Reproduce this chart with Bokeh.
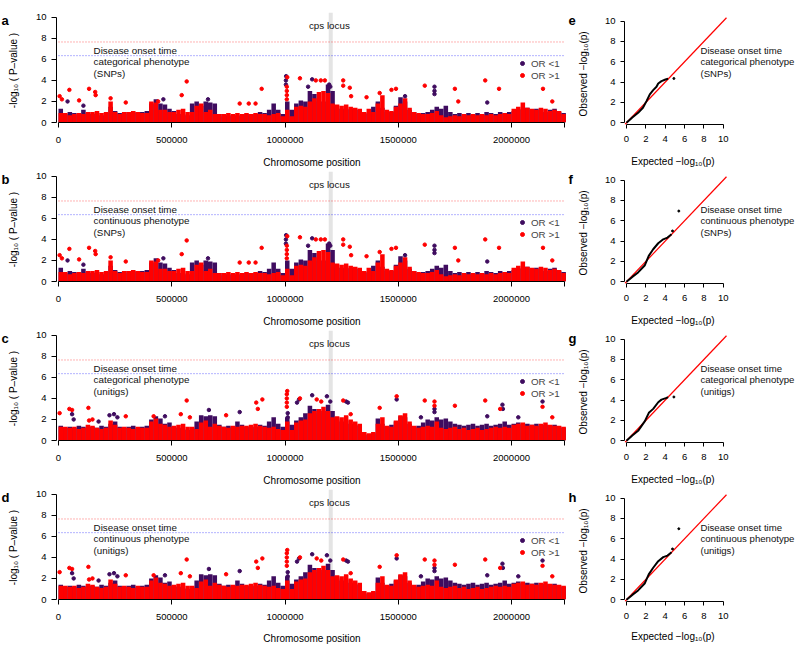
import math
from bokeh.plotting import figure
from bokeh.models import (Range1d, FixedTicker, NumeralTickFormatter, Span,
                          Legend, LegendItem)
from bokeh.layouts import column, row
from bokeh.embed import file_html
from bokeh.resources import INLINE
from bokeh.core.properties import value

# ---------------- data ----------------
bin_start_kb = list(range(0, 2240, 20))          # 20 kb bins along the chromosome
chrom_len_bp = 2233000
cps_locus_bp = 1202000
threshold_red = 7.65
threshold_blue = 6.35

# upper envelope of the dense point cloud per bin (SNP and unitig analyses)
snp_purple_env = [1.3,0.8,1.0,0.9,0.7,1.2,0.9,0.8,0.9,0.7, 0.9,1.5,1.1,0.9,0.8,1.0,1.0,0.9,1.0,1.1,
                  1.8,2.2,1.8,1.7,1.3,1.1,0.8,0.8,0.7,1.8, 2.0,1.6,2.0,1.9,1.8,0.8,0.6,0.7,0.6,0.7,
                  0.6,0.8,0.7,0.8,1.0,0.9,1.2,1.8,1.2,0.8, 2.0,1.2,1.8,2.1,2.0,3.0,2.7,2.0,2.0,3.6,
                  3.0,1.3,1.3,1.2,1.3,1.2,1.2,0.9,0.8,1.5, 2.0,1.4,1.0,1.0,1.6,2.4,2.0,1.2,1.0,0.8,
                  0.9,1.0,1.2,1.5,1.3,1.6,1.0,0.8,0.9,0.8, 0.9,0.8,0.9,0.8,1.0,0.9,0.8,1.0,0.9,1.0,
                  1.1,1.2,1.3,1.4,1.2,1.3,1.2,1.0,1.2,1.3, 1.0,0.9]
snp_red_env = [0.9,0.9,0.7,0.8,0.9,0.8,1.0,1.0,1.1,0.9, 1.0,2.0,1.0,0.8,1.0,1.0,1.1,1.0,0.9,0.9,
               2.0,1.9,1.2,1.2,1.0,1.0,1.2,1.3,1.0,1.0, 1.6,1.8,1.0,1.2,0.8,0.8,0.8,0.9,0.8,0.9,
               0.8,0.9,0.8,0.9,0.8,0.8,0.7,0.8,0.9,0.6, 1.2,0.6,1.5,1.6,1.5,2.0,2.3,2.9,3.0,2.8,
               1.8,1.7,1.6,1.7,1.5,1.4,1.3,1.0,1.3,1.0, 1.8,2.6,1.2,1.1,1.5,1.8,2.3,1.4,1.0,0.9,
               0.8,0.8,0.9,1.1,0.7,0.5,0.6,0.7,0.6,0.8, 0.7,0.8,0.7,0.8,0.7,0.8,0.7,0.8,0.9,0.8,
               1.3,1.5,1.9,1.4,1.3,1.2,1.4,1.3,1.1,1.2, 1.1,0.8]
uni_purple_env = [1.4,1.2,1.3,1.2,1.4,1.3,1.2,1.3,1.2,1.4, 1.3,1.6,1.8,1.3,1.2,1.3,1.4,1.2,1.3,1.4,
                  2.0,2.3,2.1,1.6,1.7,1.3,1.2,1.1,1.0,1.2, 1.8,2.4,2.3,2.4,2.3,1.5,1.3,1.4,1.3,1.8,
                  1.5,1.3,1.2,1.3,1.5,1.4,1.8,2.2,1.6,1.3, 2.2,1.5,1.9,2.2,2.6,3.3,3.0,2.6,2.8,3.4,
                  2.8,2.0,1.8,1.9,1.6,1.5,1.4,0.6,0.5,0.7, 2.1,1.6,1.3,1.5,1.8,2.3,2.2,1.6,1.3,1.4,
                  1.7,2.0,1.9,2.2,2.0,2.1,1.8,1.6,1.5,1.4, 1.5,1.6,1.4,1.5,1.6,1.4,1.5,1.6,1.8,1.5,
                  1.6,1.7,1.5,1.6,1.5,1.6,1.4,1.5,1.4,1.5, 1.3,1.2]
uni_red_env = [1.3,1.3,1.2,1.3,1.1,1.2,1.5,1.4,1.2,1.1, 1.2,1.9,1.5,1.2,1.3,1.2,1.1,1.3,1.2,1.2,
               1.8,2.1,1.6,1.5,1.3,1.4,1.5,1.6,1.3,1.3, 1.1,1.7,1.9,1.3,1.6,1.4,1.3,1.2,1.4,1.3,
               1.4,1.4,1.5,1.6,1.4,1.3,1.2,1.3,1.1,1.0, 1.8,1.0,1.7,1.9,2.0,2.6,2.8,3.0,3.2,2.8,
               2.2,2.3,2.2,2.4,2.0,1.8,1.6,0.8,0.7,0.8, 1.6,2.2,1.4,1.3,1.9,2.4,2.6,1.8,1.4,1.2,
               1.3,1.4,1.3,1.8,1.2,1.1,1.2,1.3,1.1,1.2, 1.0,1.1,1.2,1.0,1.1,1.2,1.3,1.2,1.3,1.2,
               1.5,1.6,1.7,1.4,1.5,1.4,1.6,1.7,1.5,1.4, 1.4,1.3]

# isolated points above the cloud
snp_red_kb = [5,15,48,91,135,162,164,230,297,440,544,566,800,840,870,897,1008,1008,1008,1008,1010,
              1066,1136,1158,1176,1257,1257,1286,1292,1360,1418,1470,1490,1617,1750,1765,1884,1945,2139,2180]
snp_red_y = [2.5,2.2,3.1,2.1,3.2,2.9,2.6,2.3,1.9,2.0,2.6,3.9,1.8,1.8,1.8,3.2,2.2,2.6,3.0,3.4,4.3,
             4.2,4.0,4.0,4.0,4.0,3.5,3.3,2.5,2.4,2.8,3.1,3.2,3.5,3.2,2.0,4.0,3.2,3.2,2.0]
snp_purple_kb = [40,110,463,660,1004,1004,1005,1102,1120,1195,1200,1530,1660,1660,1660,1893]
snp_purple_y = [2.0,1.6,2.2,2.2,3.6,4.0,4.4,3.4,4.1,3.6,3.4,2.5,3.4,3.0,2.7,1.9]
uni_red_kb = [5,48,60,132,135,150,297,420,540,566,580,740,873,880,900,1008,1008,1008,1008,1010,1066,
              1140,1160,1257,1290,1418,1493,1617,1660,1660,1750,1884,1950,2137,2180]
uni_red_y = [2.6,3.0,2.9,3.1,1.9,2.0,2.3,2.3,2.5,3.8,2.2,2.4,3.6,3.0,3.9,3.2,3.6,4.0,4.4,4.7,4.0,
             3.9,3.7,3.8,2.5,3.1,4.2,3.8,3.7,3.3,3.3,3.8,3.0,3.2,2.2]
uni_purple_kb = [60,67,177,225,245,260,470,664,800,1012,1012,1053,1062,1120,1185,1200,1270,1278,1493,
                 1600,1660,1660,1893,1960,1962,2030,2137]
uni_purple_y = [2.5,2.0,1.8,2.4,2.5,2.2,2.3,2.9,2.7,2.2,2.6,3.6,3.9,4.3,4.2,3.7,3.7,3.6,3.9,
                2.2,3.0,2.7,2.3,3.4,3.0,2.2,3.7]

# QQ plots: expected vs observed -log10(p)
qq_e_exp = [0,0.6,1.2,1.7,2.07,2.41,2.76,3.1,3.28,3.62,4.03,4.3]
qq_e_obs = [0,0.52,0.98,1.48,2.13,2.79,3.21,3.54,3.87,4.1,4.26,4.33]
qq_e_out_x = [4.9]; qq_e_out_y = [4.36]
qq_f_exp = [0,0.6,1.2,1.9,2.3,2.76,3.28,3.8,4.24,4.66]
qq_f_obs = [0,0.48,0.92,1.63,2.55,3.2,3.79,4.18,4.35,4.67]
qq_f_out_x = [4.76,5.41]; qq_f_out_y = [5.0,6.96]
qq_g_exp = [0,0.6,1.2,1.9,2.31,2.76,3.28,3.62,4.14,4.3]
qq_g_obs = [0,0.52,0.98,1.93,2.75,3.14,3.79,4.05,4.22,4.3]
qq_g_out_x = [4.9]; qq_g_out_y = [4.31]
qq_h_exp = [0,0.6,1.2,1.9,2.3,2.76,3.28,3.8,4.24,4.66]
qq_h_obs = [0,0.48,0.92,1.63,2.5,3.15,3.8,4.2,4.35,4.67]
qq_h_out_x = [4.76,5.41]; qq_h_out_y = [5.0,6.99]

panel_letters = ["a", "b", "c", "d"]
qq_letters = ["e", "f", "g", "h"]
phenotype = ["categorical phenotype", "continuous phenotype",
             "categorical phenotype", "continuous phenotype"]
marker_type = ["(SNPs)", "(SNPs)", "(unitigs)", "(unitigs)"]

# ---------------- style / layout ----------------
PURPLE = "#3f0c5f"
RED = "#ff0000"
FONT = "Liberation Sans"
ROW_H = [170, 159, 159, 157]
TOP = [12, 1, 1, 1]          # common frame top of every figure in a row
BP_PER_PX = 4415.0
M_GUT_W = 32
M_FRAME_W = 511
M_FRAME_H = 110
Q_GUT_W = 34
Q_FRAME_W = 172
Q_FRAME_H = 112
Q_SX = 9.67
Q_SY = 10.16
Q_PLOT_LIM = 10.34           # upper edge of the QQ plotting region (data units)


def style_axes(p):
    for ax in (p.xaxis[0], p.yaxis[0]):
        ax.major_label_text_font = FONT
        ax.major_label_text_font_size = "9.5px"
        ax.major_label_text_color = "black"
        ax.axis_label_text_font = FONT
        ax.axis_label_text_font_size = "10px"
        ax.axis_label_text_font_style = "normal"
        ax.axis_label_text_color = "black"
        ax.minor_tick_line_color = None
        ax.major_tick_in = 0
        ax.major_tick_out = 5
        ax.axis_line_color = "black"
        ax.major_tick_line_color = "black"


def gutter(i, w, letter, letter_x, title, title_x, title_y_rowrel):
    """Left gutter holding the panel letter and the rotated y-axis title."""
    h = ROW_H[i]
    top = TOP[i]
    fh = h - top
    p = figure(frame_width=w, frame_height=fh, x_range=Range1d(0, w), y_range=Range1d(0, fh),
               x_axis_type=None, y_axis_type=None, output_backend="svg", toolbar_location=None,
               min_border_left=0, min_border_right=0, min_border_top=top, min_border_bottom=0)
    p.outline_line_color = None
    p.grid.visible = False
    letter_rowrel = top + 8 if i == 0 else 9
    p.text(x=[letter_x], y=[h - letter_rowrel], text=[letter], text_font=value(FONT),
           text_font_size="13px", text_font_style="bold", text_baseline="middle",
           text_align="left", text_color="black")
    p.text(x=[title_x], y=[h - title_y_rowrel], text=[title], angle=math.pi / 2,
           text_font=value(FONT), text_font_size="10px", text_baseline="middle",
           text_align="center", text_color="black")
    return p


def manhattan(i, purple_env, red_env, pkb, py, rkb, ry):
    h = ROW_H[i]
    top = TOP[i]
    x0 = -2 * BP_PER_PX
    x1 = x0 + M_FRAME_W * BP_PER_PX
    p = figure(frame_width=M_FRAME_W, frame_height=M_FRAME_H,
               x_range=Range1d(x0, x1), y_range=Range1d(0, 10.45),
               output_backend="svg", toolbar_location=None,
               min_border_left=55 - M_GUT_W, min_border_right=0, min_border_top=top,
               min_border_bottom=h - top - M_FRAME_H)
    p.outline_line_color = None
    p.grid.visible = False
    p.add_layout(Span(location=cps_locus_bp, dimension="height", line_color="#e4e4e4",
                      line_width=4, level="underlay"))
    xs = [(b + 10) * 1000 for b in bin_start_kb]
    p.vbar(x=xs, width=20000, top=purple_env, bottom=0, fill_color=PURPLE, line_color=None)
    p.vbar(x=xs, width=20000, top=red_env, bottom=0, fill_color=RED, line_color=None)
    rp = p.scatter([k * 1000 for k in pkb], py, size=3.5, color=PURPLE)
    rr = p.scatter([k * 1000 for k in rkb], ry, size=3.5, color=RED)
    p.segment(x0=[0], x1=[chrom_len_bp], y0=[threshold_red], y1=[threshold_red],
              line_color=RED, line_alpha=0.6, line_dash="1 2", line_width=1)
    p.segment(x0=[0], x1=[chrom_len_bp], y0=[threshold_blue], y1=[threshold_blue],
              line_color="blue", line_alpha=0.6, line_dash="1 2", line_width=1)
    tx = 155000
    p.text(x=[tx, tx, tx], y=[6.87, 5.77, 4.68],
           text=["Disease onset time", phenotype[i], marker_type[i]],
           text_font=value(FONT), text_font_size="9.8px", text_baseline="middle",
           text_align="left", text_color="#111111")
    p.text(x=[1196000], y=[9.21], text=["cps locus"], text_font=value(FONT),
           text_font_size="9.8px", text_baseline="middle", text_align="center",
           text_color="#111111")
    leg = Legend(items=[LegendItem(label="OR <1", renderers=[rp]),
                        LegendItem(label="OR >1", renderers=[rr])],
                 location=(461, 41), orientation="vertical", padding=0, margin=0,
                 spacing=0, glyph_width=10, glyph_height=12, label_height=12,
                 label_standoff=4, label_text_font=FONT, label_text_font_size="9.8px",
                 border_line_color=None, background_fill_alpha=0)
    p.add_layout(leg)
    p.xaxis.ticker = FixedTicker(ticks=[0, 500000, 1000000, 1500000, 2000000, chrom_len_bp])
    p.xaxis.formatter = NumeralTickFormatter(format="0")
    p.xaxis.major_label_overrides = {chrom_len_bp: ""}
    p.xaxis.bounds = (0, chrom_len_bp)
    p.xaxis.axis_label = "Chromosome position"
    p.yaxis.ticker = FixedTicker(ticks=[0, 2, 4, 6, 8, 10])
    p.yaxis.bounds = (0, 10)
    p.yaxis.major_label_orientation = "horizontal"
    style_axes(p)
    p.xaxis.major_label_standoff = 9
    p.xaxis.axis_label_standoff = 11 if i < 3 else 10
    p.yaxis.major_label_standoff = 5
    return p


def qq(i, ex, ob, ox, oy):
    h = ROW_H[i]
    top = TOP[i]
    x0 = -2.0 / Q_SX
    y0 = -0.17
    p = figure(frame_width=Q_FRAME_W, frame_height=Q_FRAME_H,
               x_range=Range1d(x0, x0 + Q_FRAME_W / Q_SX),
               y_range=Range1d(y0, y0 + Q_FRAME_H / Q_SY), output_backend="svg",
               toolbar_location=None,
               min_border_left=623 - 566 - Q_GUT_W, min_border_right=0, min_border_top=top,
               min_border_bottom=h - top - Q_FRAME_H)
    p.outline_line_color = None
    p.grid.visible = False
    # y = x reference line across the plotting region
    p.line([y0, Q_PLOT_LIM], [y0, Q_PLOT_LIM], line_color=RED, line_width=1.2)
    p.line(ex, ob, line_color="black", line_width=2)
    p.scatter(ox, oy, size=2, color="black")
    tx = 7.65
    p.text(x=[tx, tx, tx], y=[7.15, 6.0, 4.85],
           text=["Disease onset time", phenotype[i], marker_type[i]],
           text_font=value(FONT), text_font_size="9.6px", text_baseline="middle",
           text_align="left", text_color="#111111")
    for ax in (p.xaxis, p.yaxis):
        ax.ticker = FixedTicker(ticks=[0, 2, 4, 6, 8, 10])
        ax.bounds = (0, 10)
    # label centred under the 0-10 axis (trailing no-break spaces offset the centring)
    p.xaxis.axis_label = "Expected  \u2212log\u2081\u2080(p)" + "\u00a0" * 26
    p.yaxis.major_label_orientation = "horizontal"
    style_axes(p)
    p.xaxis.major_label_standoff = 7
    p.xaxis.axis_label_standoff = 11 if i < 3 else 9
    p.yaxis.major_label_standoff = 5
    p.xaxis.major_tick_out = 4
    p.yaxis.major_tick_out = 4
    return p


rows = []
man_data = [(snp_purple_env, snp_red_env, snp_purple_kb, snp_purple_y, snp_red_kb, snp_red_y),
            (snp_purple_env, snp_red_env, snp_purple_kb, snp_purple_y, snp_red_kb, snp_red_y),
            (uni_purple_env, uni_red_env, uni_purple_kb, uni_purple_y, uni_red_kb, uni_red_y),
            (uni_purple_env, uni_red_env, uni_purple_kb, uni_purple_y, uni_red_kb, uni_red_y)]
qq_data = [(qq_e_exp, qq_e_obs, qq_e_out_x, qq_e_out_y),
           (qq_f_exp, qq_f_obs, qq_f_out_x, qq_f_out_y),
           (qq_g_exp, qq_g_obs, qq_g_out_x, qq_g_out_y),
           (qq_h_exp, qq_h_obs, qq_h_out_x, qq_h_out_y)]
for i in range(4):
    y0_rowrel = TOP[i] + M_FRAME_H
    g1 = gutter(i, M_GUT_W, panel_letters[i], 1, "-log\u2081\u2080 ( P\u2013value )",
                13, y0_rowrel - 52)
    g2 = gutter(i, Q_GUT_W, qq_letters[i], 1, "Observed  \u2212log\u2081\u2080(p)",
                16, y0_rowrel - 50)
    rows.append(row(g1, manhattan(i, *man_data[i]), g2, qq(i, *qq_data[i])))

layout = column(*rows)
open("out.html", "w").write(file_html(layout, INLINE))
